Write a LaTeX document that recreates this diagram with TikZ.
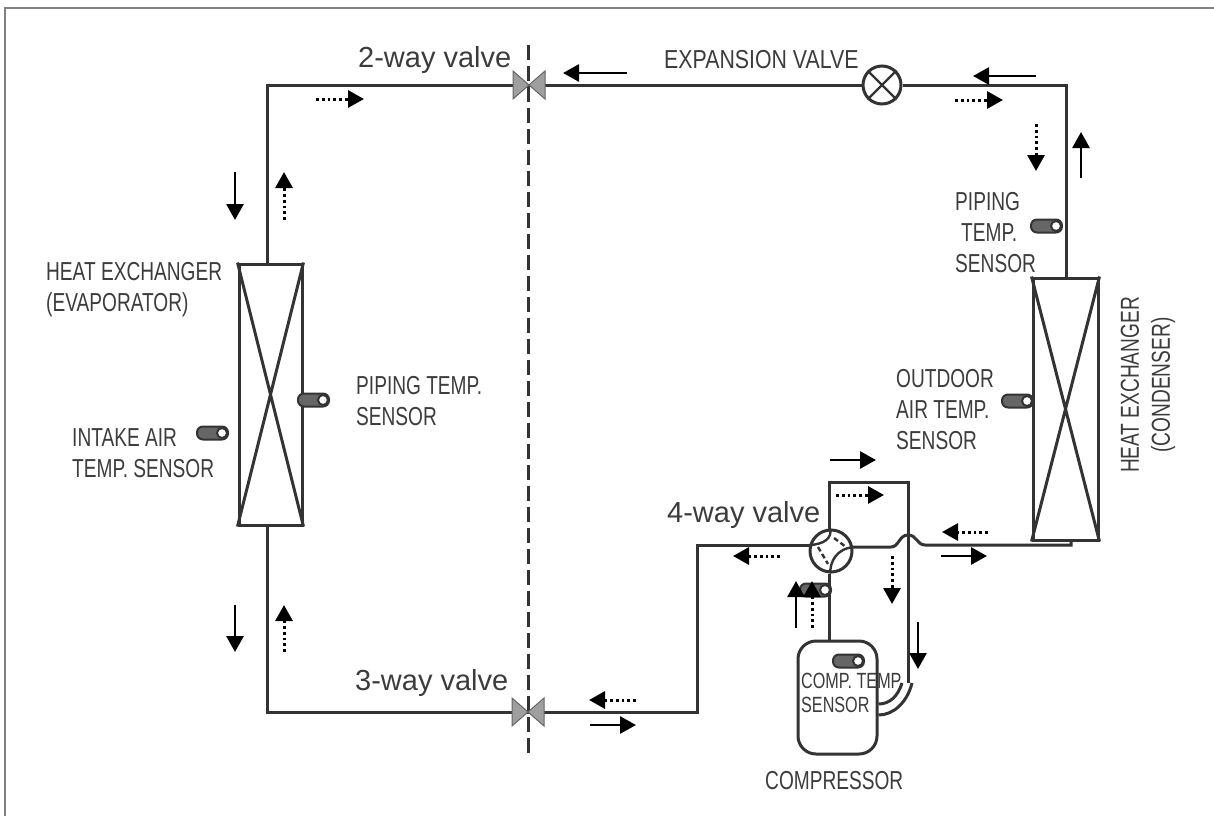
\documentclass[tikz,border=0pt]{standalone}
\usepackage{fontspec}
\setmainfont{Liberation Sans}
\newfontfamily\narrowfont[FakeStretch=0.735]{Liberation Sans}
\newfontfamily\wideningfont[FakeStretch=0.82]{Liberation Sans}
\usetikzlibrary{arrows.meta,calc}
\definecolor{pipegray}{HTML}{333333}
\definecolor{textgray}{HTML}{3C3C3C}
\tikzset{
  pipe/.style={draw=pipegray, line width=3pt},
  flowarrow/.style={black, line width=2.8pt, -{Triangle[length=16pt,width=17pt]}},
  dotarrow/.style={black, line width=3pt, dash pattern=on 2.8pt off 3pt, -{Triangle[length=16pt,width=17pt]}},
  capslabel/.style={text=textgray, font=\narrowfont\fontsize{26}{31}\selectfont, align=left, inner sep=0pt},
  valvelabel/.style={text=textgray, font=\fontsize{29}{32}\selectfont, inner sep=0pt},
  exchanger/.style={draw=pipegray, line width=3pt, minimum width=#1, inner sep=0pt},
  sensorbody/.style={draw=pipegray, fill=gray!80!black, line width=2pt, rounded corners=6pt},
  sensorend/.style={draw=pipegray, fill=white, line width=2pt}
}
\newcommand{\tempsensor}[3]{%
  \draw[sensorbody] (#2-31,#3-6.5) rectangle (#2,#3+6.5);
  \node[circle, sensorend, minimum size=10pt, inner sep=0pt] (#1) at (#2-6,#3) {};
}
\newcommand{\flowmark}[6]{%
  \coordinate (#1s) at (#3,#4);
  \coordinate (#1e) at (#5,#6);
  \draw[#2] (#1s) -- (#1e);
}
\begin{document}
\begin{tikzpicture}[x=1pt, y=-1pt]
    \useasboundingbox (0,0) rectangle (1214,816);

    % Frame
    \draw[gray, line width=2pt] (5,816) -- (5,8) -- (1214,8);

    % Divider
    \coordinate (divtop) at (528,45);
    \coordinate (divbot) at (528,757);
    \draw[pipegray, line width=3pt, dash pattern=on 15pt off 6pt] (divtop) -- (divbot);

    % Heat exchangers
    \node[exchanger=63pt, minimum height=261pt] (evap) at (270.5,394.5) {};
    \draw[pipe] (evap.north west) -- (evap.south east) (evap.north east) -- (evap.south west);
    \node[exchanger=65pt, minimum height=262pt] (cond) at (1065.5,409) {};
    \draw[pipe] (cond.north west) -- (cond.south east) (cond.north east) -- (cond.south west);

    % Valves
    \node[circle, draw=pipegray, line width=3pt, minimum size=38pt, inner sep=0pt] (expv) at (882,85) {};
    \draw[pipe, line width=2.4pt] (expv.45) -- (expv.225) (expv.135) -- (expv.315);
    \node[circle, draw=pipegray, line width=3pt, minimum size=42pt, inner sep=0pt] (fourv) at (831,551) {};
    \coordinate (twov) at (529,85);
    \coordinate (threev) at (528,712);

    % Compressor
    \node[draw=pipegray, line width=3pt, rounded corners=18pt, minimum width=79pt, minimum height=113pt, inner sep=0pt] (comp) at (837.5,697.5) {};

    % Pipes
    \coordinate (evaptl) at (267,85);
    \coordinate (evapbl) at (267,712);
    \coordinate (condtr) at (1066,85);
    \coordinate (condbr) at (1071,545);
    \coordinate (bumpr) at (925,545);
    \coordinate (suctb) at (697,712);
    \coordinate (loopl) at (829,482);
    \coordinate (loopr) at (908,482);
    \coordinate (loopb) at (908,683);
    \draw[pipe] (evap.north -| evaptl) -- (evaptl) -- (twov);
    \draw[pipe] (twov) -- (expv.west);
    \draw[pipe] (expv.east) -- (condtr) -- (cond.north -| condtr);
    \draw[pipe] (evap.south -| evapbl) -- (evapbl) -- (threev);
    \draw[pipe] (threev) -- (suctb) -- (suctb |- fourv.165) -- (fourv.165);
    \draw[pipe] (cond.south -| condbr) -- (condbr) -- (bumpr) .. controls (917,545) and (917,535) .. (908,535) .. controls (899,535) and (899,547) .. (891,547) -- (fourv.10);
    \draw[pipe] (fourv.north -| loopl) -- (loopl) -- (loopr) -- (loopb);
    \draw[pipe] (fourv.south -| loopl) -- (comp.north -| loopl);
    \draw[pipe] (902,683) .. controls (898,696) and (890,704) .. (comp.east |- 0,704);
    \draw[pipe] (912,683) .. controls (907,703) and (893,715) .. (comp.east |- 0,715);

    % 4-way valve inside
    \draw[pipe, line width=2.4pt] (fourv.92) .. controls (832,538) and (825,544) .. (fourv.165);
    \draw[pipe, line width=2.4pt] (fourv.268) .. controls (830,562) and (836,549) .. (fourv.10);
    \draw[pipe, line width=2.4pt, dash pattern=on 5pt off 3pt] (818,547) -- (828,564);
    \draw[pipe, line width=2.4pt, dash pattern=on 5pt off 3pt] (834,538) -- (846,547);

    % 2-way and 3-way valves
    \foreach \name/\vx/\vy in {twov/529/85, threev/528/712} {
        \draw[fill=gray!75, draw=gray!80!black, line width=1pt] (\vx,\vy) -- (\vx-16,\vy-14) -- (\vx-16,\vy+14) -- cycle;
        \draw[fill=gray!75, draw=gray!80!black, line width=1pt] (\vx,\vy) -- (\vx+16,\vy-14) -- (\vx+16,\vy+14) -- cycle;
    }

    % Sensors
    \tempsensor{senintake}{228}{433}
    \tempsensor{senevap}{329}{400}
    \tempsensor{senpipe}{1062}{226}
    \tempsensor{senout}{1033}{401}
    \tempsensor{sencomp}{864}{661}
    \tempsensor{senfour}{831}{590}

    % Flow direction, solid
    \flowmark{fa}{flowarrow}{627}{73}{563}{73}
    \flowmark{fb}{flowarrow}{1036}{76}{973}{76}
    \flowmark{fc}{flowarrow}{235}{172}{235}{220}
    \flowmark{fd}{flowarrow}{1081}{178}{1081}{132}
    \flowmark{fe}{flowarrow}{235}{605}{235}{652}
    \flowmark{ff}{flowarrow}{590}{725}{636}{725}
    \flowmark{fg}{flowarrow}{830}{460}{876}{460}
    \flowmark{fh}{flowarrow}{941}{556}{987}{556}
    \flowmark{fi}{flowarrow}{796}{628}{796}{581}
    \flowmark{fj}{flowarrow}{918}{622}{918}{669}

    % Flow direction, dotted
    \flowmark{da}{dotarrow}{316}{99}{364}{99}
    \flowmark{db}{dotarrow}{955}{100}{1003}{100}
    \flowmark{dc}{dotarrow}{1036}{124}{1036}{171}
    \flowmark{dd}{dotarrow}{284}{220}{284}{172}
    \flowmark{de}{dotarrow}{284}{652}{284}{605}
    \flowmark{df}{dotarrow}{636}{700}{589}{700}
    \flowmark{dg}{dotarrow}{836}{495}{884}{495}
    \flowmark{dh}{dotarrow}{988}{532}{942}{532}
    \flowmark{di}{dotarrow}{780}{556}{733}{556}
    \flowmark{dj}{dotarrow}{892}{556}{892}{604}
    \flowmark{dk}{dotarrow}{812}{628}{812}{581}

    % Labels
    \node[valvelabel, anchor=west] (labtwo) at (358,60) {2-way valve};
    \node[valvelabel, anchor=west] (labthree) at (355,683) {3-way valve};
    \node[valvelabel, anchor=west] (labfour) at (667,515) {4-way valve};
    \node[capslabel, anchor=west, font=\wideningfont\fontsize{26}{31}\selectfont] (labexp) at (664,60) {EXPANSION VALVE};
    \node[capslabel, anchor=west] (labevap) at (46,290) {HEAT EXCHANGER\\(EVAPORATOR)};
    \node[capslabel, anchor=west] (labevpipe) at (356,401) {PIPING TEMP.\\SENSOR};
    \node[capslabel, anchor=west] (labintake) at (72,453) {INTAKE AIR\\TEMP. SENSOR};
    \node[capslabel, anchor=west] (labcdpipe) at (955,233) {PIPING\\\hspace*{6pt}TEMP.\\SENSOR};
    \node[capslabel, anchor=west] (labout) at (896,410) {OUTDOOR\\AIR TEMP.\\SENSOR};
    \node[capslabel, align=center, rotate=90] (labcond) at (1148,385) {HEAT EXCHANGER\\(CONDENSER)};
    \node[capslabel, anchor=west, font=\narrowfont\fontsize{22}{24}\selectfont] (labcomp) at (801,693) {COMP. TEMP\\SENSOR};
    \node[capslabel, anchor=west] (labcompr) at (765,781) {COMPRESSOR};
\end{tikzpicture}
\end{document}
